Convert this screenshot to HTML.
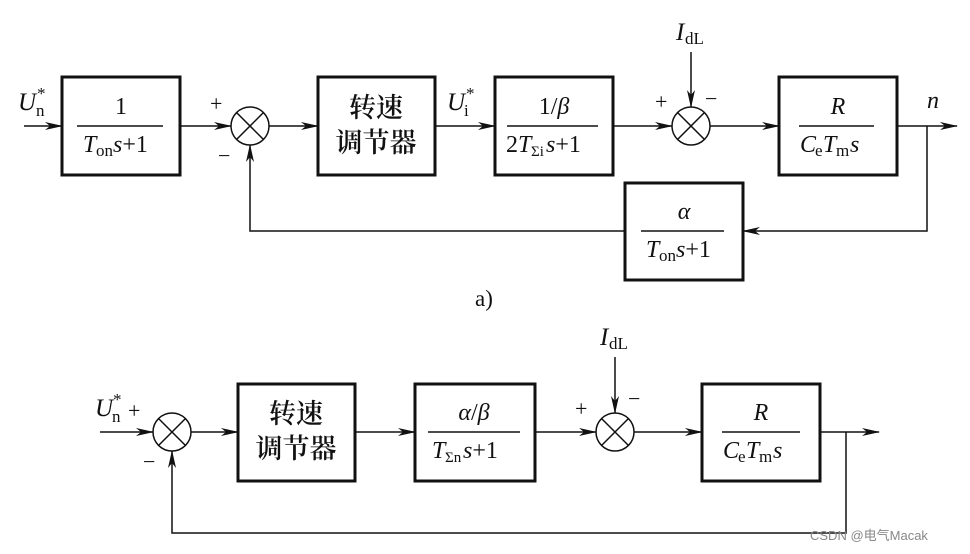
<!DOCTYPE html>
<html><head><meta charset="utf-8"><style>
html,body{margin:0;padding:0;background:#fff;}
svg{display:block;}
text{font-family:"Liberation Serif","Noto Serif CJK SC",serif;fill:#111;}
.cn{font-family:"Noto Serif CJK SC","Noto Sans CJK SC",serif;font-weight:600;}
</style></head><body>
<svg width="970" height="554" viewBox="0 0 970 554" xmlns="http://www.w3.org/2000/svg">
<defs>
<marker id="a" markerWidth="18" markerHeight="8" refX="17" refY="4" orient="auto" markerUnits="userSpaceOnUse">
<path d="M0,0 L18,4 L0,8 L5,4 Z" fill="#111"/></marker>
</defs>
<g stroke="#111" fill="none">
<rect x="62" y="77" width="118" height="98" stroke-width="3"/>
<rect x="318" y="77" width="117" height="98" stroke-width="3"/>
<rect x="495" y="77" width="118" height="98" stroke-width="3"/>
<rect x="779" y="77" width="118" height="98" stroke-width="3"/>
<rect x="625" y="183" width="118" height="97" stroke-width="3"/>
<circle cx="250" cy="126" r="19" stroke-width="1.5"/>
<path d="M237,113 L263,139 M263,113 L237,139" stroke-width="1.5"/>
<circle cx="691" cy="126" r="19" stroke-width="1.5"/>
<path d="M678,113 L704,139 M704,113 L678,139" stroke-width="1.5"/>
<g stroke-width="1.5">
<line x1="24" y1="126" x2="62" y2="126" marker-end="url(#a)"/>
<line x1="180" y1="126" x2="231" y2="126" marker-end="url(#a)"/>
<line x1="269" y1="126" x2="318" y2="126" marker-end="url(#a)"/>
<line x1="435" y1="126" x2="495" y2="126" marker-end="url(#a)"/>
<line x1="613" y1="126" x2="672" y2="126" marker-end="url(#a)"/>
<line x1="710" y1="126" x2="779" y2="126" marker-end="url(#a)"/>
<line x1="897" y1="126" x2="957" y2="126" marker-end="url(#a)"/>
<line x1="691" y1="52" x2="691" y2="107" marker-end="url(#a)"/>
<polyline points="927,126 927,231 743,231" marker-end="url(#a)"/>
<polyline points="625,231 250,231 250,145" marker-end="url(#a)"/>
<line x1="77" y1="126" x2="163" y2="126"/>
<line x1="507" y1="126" x2="598" y2="126"/>
<line x1="799" y1="126" x2="874" y2="126"/>
<line x1="641" y1="231" x2="724" y2="231"/>
</g>
<rect x="238" y="384" width="117" height="97" stroke-width="3"/>
<rect x="415" y="384" width="120" height="97" stroke-width="3"/>
<rect x="702" y="384" width="118" height="97" stroke-width="3"/>
<circle cx="172" cy="432" r="19" stroke-width="1.5"/>
<path d="M159,419 L185,445 M185,419 L159,445" stroke-width="1.5"/>
<circle cx="615" cy="432" r="19" stroke-width="1.5"/>
<path d="M602,419 L628,445 M628,419 L602,445" stroke-width="1.5"/>
<g stroke-width="1.5">
<line x1="100" y1="432" x2="153" y2="432" marker-end="url(#a)"/>
<line x1="191" y1="432" x2="238" y2="432" marker-end="url(#a)"/>
<line x1="355" y1="432" x2="415" y2="432" marker-end="url(#a)"/>
<line x1="535" y1="432" x2="596" y2="432" marker-end="url(#a)"/>
<line x1="634" y1="432" x2="702" y2="432" marker-end="url(#a)"/>
<line x1="820" y1="432" x2="879" y2="432" marker-end="url(#a)"/>
<line x1="615" y1="357" x2="615" y2="413" marker-end="url(#a)"/>
<polyline points="846,432 846,533 172,533 172,451" marker-end="url(#a)"/>
<line x1="428" y1="432" x2="520" y2="432"/>
<line x1="722" y1="432" x2="800" y2="432"/>
</g>
</g>
<text x="18" y="110" font-size="25" font-style="italic">U</text><text x="36" y="116" font-size="17">n</text><text x="37" y="99" font-size="17">*</text>
<text x="121" y="114" font-size="24" text-anchor="middle">1</text>
<text x="83" y="152" font-size="24" font-style="italic">T</text><text x="96" y="156" font-size="17">on</text><text x="113" y="152" font-size="24"><tspan font-style="italic">s</tspan>+1</text>
<text x="210" y="111" font-size="22">+</text>
<text x="218" y="163" font-size="22">−</text>
<text x="376" y="117" font-size="27" text-anchor="middle" class="cn">转速</text>
<text x="376" y="152" font-size="27" text-anchor="middle" class="cn">调节器</text>
<text x="447" y="110" font-size="25" font-style="italic">U</text><text x="464" y="116" font-size="17">i</text><text x="466" y="99" font-size="17">*</text>
<text x="554" y="114" font-size="24" text-anchor="middle">1/<tspan font-style="italic">β</tspan></text>
<text x="506" y="152" font-size="24">2<tspan font-style="italic">T</tspan></text><text x="531" y="156" font-size="15">Σi</text><text x="546" y="152" font-size="24"><tspan font-style="italic">s</tspan>+1</text>
<text x="655" y="109" font-size="22">+</text>
<text x="705" y="106" font-size="22">−</text>
<text x="676" y="40" font-size="25" font-style="italic">I</text><text x="685" y="44" font-size="17">dL</text>
<text x="838" y="114" font-size="24" text-anchor="middle" font-style="italic">R</text>
<text x="800" y="152" font-size="24" font-style="italic">C</text><text x="815" y="156" font-size="17">e</text><text x="823" y="152" font-size="24" font-style="italic">T</text><text x="836" y="156" font-size="17">m</text><text x="850" y="152" font-size="24" font-style="italic">s</text>
<text x="927" y="108" font-size="24" font-style="italic">n</text>
<text x="684" y="219" font-size="24" text-anchor="middle" font-style="italic">α</text>
<text x="646" y="257" font-size="24" font-style="italic">T</text><text x="659" y="261" font-size="17">on</text><text x="676" y="257" font-size="24"><tspan font-style="italic">s</tspan>+1</text>
<text x="475" y="306" font-size="23">a)</text>
<text x="95" y="416" font-size="25" font-style="italic">U</text><text x="112" y="422" font-size="17">n</text><text x="113" y="405" font-size="17">*</text><text x="128" y="418" font-size="22">+</text>
<text x="143" y="469" font-size="22">−</text>
<text x="296" y="423" font-size="27" text-anchor="middle" class="cn">转速</text>
<text x="296" y="458" font-size="27" text-anchor="middle" class="cn">调节器</text>
<text x="474" y="420" font-size="24" text-anchor="middle"><tspan font-style="italic">α</tspan>/<tspan font-style="italic">β</tspan></text>
<text x="432" y="458" font-size="24" font-style="italic">T</text><text x="445" y="462" font-size="15">Σn</text><text x="463" y="458" font-size="24"><tspan font-style="italic">s</tspan>+1</text>
<text x="575" y="416" font-size="22">+</text>
<text x="628" y="406" font-size="22">−</text>
<text x="600" y="345" font-size="25" font-style="italic">I</text><text x="609" y="349" font-size="17">dL</text>
<text x="761" y="420" font-size="24" text-anchor="middle" font-style="italic">R</text>
<text x="723" y="458" font-size="24" font-style="italic">C</text><text x="738" y="462" font-size="17">e</text><text x="746" y="458" font-size="24" font-style="italic">T</text><text x="759" y="462" font-size="17">m</text><text x="773" y="458" font-size="24" font-style="italic">s</text>
<text x="810" y="540" font-size="13" style="font-family:'Liberation Sans','Noto Sans CJK SC',sans-serif;fill:#888">CSDN @电气Macak</text>
</svg>
</body></html>
